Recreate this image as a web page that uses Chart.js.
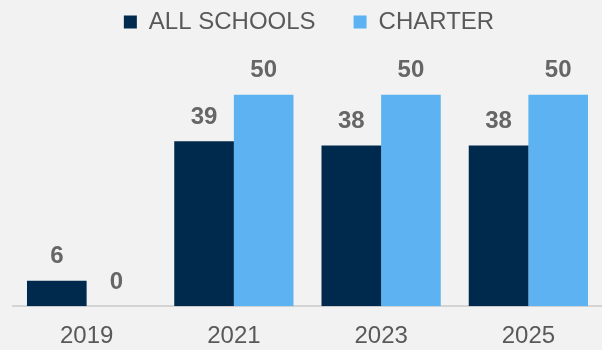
<!DOCTYPE html>
<html>
<head>
<meta charset="utf-8">
<script src="https://cdn.jsdelivr.net/npm/chart.js@4/dist/chart.umd.min.js"></script>
<style>
  html, body { margin: 0; padding: 0; background: #f2f2f2; }
  #wrap { width: 602px; height: 350px; }
</style>
</head>
<body>
<div id="wrap"><canvas id="chart"></canvas></div>
<script>
const years = ['2019', '2021', '2023', '2025'];
const allSchools = [6, 39, 38, 38];
const charter = [0, 50, 50, 50];

const navy = '#002a4d';
const lightBlue = '#5db3f1';
const textGray = '#595959';
const fontFamily = '"Liberation Sans", Arial, sans-serif';

// draws the value above each bar
const barLabels = {
    id: 'barLabels',
    afterDatasetsDraw(chart) {
        const ctx = chart.ctx;
        ctx.save();
        ctx.font = 'bold 24px ' + fontFamily;
        ctx.fillStyle = '#666666';
        ctx.textAlign = 'center';
        ctx.textBaseline = 'middle';
        chart.data.datasets.forEach((ds, i) => {
            chart.getDatasetMeta(i).data.forEach((bar, j) => {
                ctx.fillText(ds.data[j], bar.x, bar.y - 24);
            });
        });
        ctx.restore();
    }
};

const ctx = document.getElementById('chart').getContext('2d');

new Chart(ctx, {
    type: 'bar',
    data: {
        labels: years,
        datasets: [
            { label: 'ALL SCHOOLS', data: allSchools, backgroundColor: navy },
            { label: 'CHARTER', data: charter, backgroundColor: lightBlue },
        ]
    },
    options: {
        responsive: true,
        maintainAspectRatio: false,
        animation: false,
        layout: { padding: { left: 13, right: -3, top: -28, bottom: -17 } },
        datasets: {
            bar: { categoryPercentage: 0.81, barPercentage: 1 }
        },
        plugins: {
            tooltip: { enabled: false },
            legend: {
                position: 'top',
                labels: {
                    boxWidth: 13,
                    boxHeight: 13,
                    padding: 38,
                    color: textGray,
                    font: { family: fontFamily, size: 24 }
                }
            }
        },
        scales: {
            x: {
                grid: { display: false, drawTicks: false },
                border: { color: '#d4d4d4', width: 2 },
                ticks: {
                    color: textGray,
                    padding: 16,
                    font: { family: fontFamily, size: 24 }
                }
            },
            y: {
                display: false,
                min: 0,
                max: 62
            }
        }
    },
    plugins: [barLabels]
});
</script>
</body>
</html>
